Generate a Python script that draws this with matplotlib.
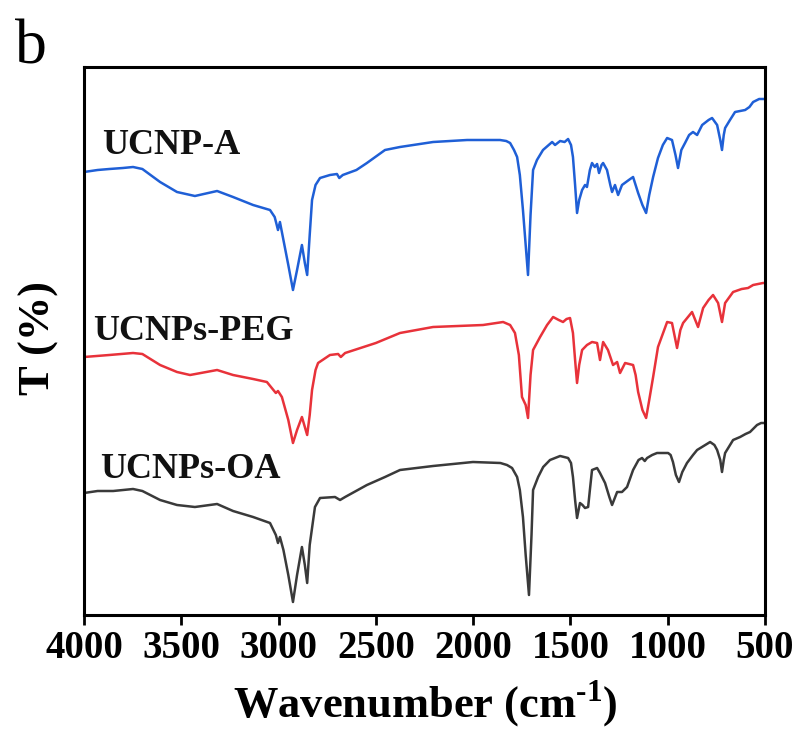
"""
FTIR spectra of UCNPs-OA, UCNPs-PEG and UCNP-A
"""

import matplotlib
matplotlib.use("Agg")
import matplotlib.pyplot as plt

plt.rcParams['font.family'] = ['Liberation Serif', 'DejaVu Serif']
plt.rcParams['mathtext.fontset'] = 'custom'
plt.rcParams['mathtext.rm'] = 'Liberation Serif:bold'
plt.rcParams['mathtext.bf'] = 'Liberation Serif:bold'

# wavenumber (cm-1) and offset transmittance (a.u.)
wn_a = [4000, 3930, 3870, 3800, 3748, 3700, 3609, 3522, 3430, 3316, 3234, 3131,
        3044, 3020, 3012, 3003, 2993, 2975, 2950, 2926, 2905, 2880, 2865, 2853,
        2840, 2828, 2810, 2787, 2736, 2700, 2688, 2670, 2600, 2546, 2453, 2376,
        2206, 2031, 1862, 1830, 1810, 1790, 1774, 1760, 1744, 1730, 1718, 1705,
        1692, 1672, 1641, 1594, 1579, 1553, 1530, 1512, 1497, 1487, 1476, 1466,
        1455, 1440, 1425, 1415, 1400, 1389, 1375, 1363, 1353, 1340, 1332, 1312,
        1295, 1286, 1271, 1255, 1235, 1200, 1178, 1165, 1152, 1130, 1111, 1095,
        1075, 1050, 1025, 1003, 978, 960, 947, 930, 911, 890, 870, 849, 823, 790,
        772, 746, 730, 721, 712, 705, 680, 654, 602, 580, 561, 530, 500]
t_a = [443, 445, 446, 447, 448, 446, 433, 423, 419, 424, 418, 410,
       405, 398, 392, 385, 393, 375, 350, 325, 345, 370, 352, 340,
       380, 415, 430, 437, 440, 441, 437, 440, 445, 452, 465, 468,
       473, 475, 475, 474, 472, 465, 458, 440, 405, 370, 340, 400,
       445, 455, 465, 473, 470, 474, 473, 476, 470, 458, 430, 402,
       415, 425, 430, 428, 445, 452, 448, 451, 442, 450, 452, 445,
       430, 423, 430, 420, 430, 435, 438, 430, 422, 410, 402, 420,
       438, 457, 470, 477, 475, 460, 447, 465, 472, 480, 483, 480, 490, 495,
       497, 490, 475, 465, 480, 487, 495, 503, 505, 508, 513, 516, 516]

wn_peg = [4000, 3870, 3748, 3700, 3609, 3522, 3455, 3316, 3234, 3131, 3060, 3014,
          3003, 2983, 2950, 2926, 2905, 2880, 2865, 2853, 2840, 2828, 2810, 2797,
          2736, 2694, 2680, 2658, 2500, 2376, 2206, 1949, 1846, 1810, 1785, 1765,
          1749, 1730, 1718, 1705, 1692, 1656, 1620, 1589, 1560, 1538, 1520, 1502,
          1487, 1476, 1466, 1455, 1440, 1415, 1389, 1363, 1348, 1332, 1307, 1281,
          1260, 1245, 1219, 1178, 1165, 1152, 1130, 1111, 1095, 1075, 1050, 1003,
          978, 952, 935, 921, 875, 844, 818, 790, 767, 741, 721, 705, 664, 620,
          587, 561, 510, 500]
t_peg = [258, 260, 262, 261, 250, 243, 240, 245, 240, 236, 233, 222,
         224, 218, 195, 172, 185, 198, 188, 180, 200, 225, 245, 252,
         260, 261, 258, 262, 272, 282, 288, 290, 293, 290, 282, 260,
         218, 210, 197, 240, 265, 278, 290, 298, 295, 293, 296, 297,
         282, 255, 232, 250, 265, 270, 273, 272, 255, 273, 265, 250,
         253, 242, 252, 250, 240, 223, 205, 197, 215, 238, 268, 293,
         292, 267, 285, 292, 303, 288, 307, 315, 320, 312, 293, 312, 323, 326,
         327, 330, 332, 332]

wn_oa = [4000, 3930, 3850, 3748, 3700, 3609, 3522, 3430, 3316, 3234, 3131, 3044,
         3014, 3003, 2993, 2975, 2950, 2926, 2905, 2880, 2865, 2853, 2840, 2813,
         2787, 2710, 2684, 2658, 2546, 2453, 2376, 2206, 2001, 1860, 1826, 1800,
         1774, 1760, 1744, 1730, 1713, 1700, 1692, 1666, 1640, 1605, 1553, 1512,
         1497, 1487, 1476, 1466, 1451, 1438, 1425, 1409, 1400, 1389, 1363, 1348,
         1322, 1300, 1286, 1270, 1260, 1235, 1209, 1178, 1150, 1132, 1118, 1106,
         1080, 1055, 998, 985, 973, 958, 942, 925, 901, 870, 849, 782, 760, 746,
         730, 721, 712, 705, 664, 628, 600, 577, 541, 520, 500]
t_oa = [122, 124, 124, 126, 124, 115, 110, 108, 111, 104, 98, 92,
        80, 72, 78, 65, 40, 13, 40, 68, 50, 32, 70, 108,
        117, 118, 115, 118, 130, 138, 145, 149, 153, 152, 150, 147,
        138, 125, 98, 60, 20, 80, 125, 138, 148, 155, 159, 157,
        152, 138, 115, 97, 112, 110, 107, 108, 125, 145, 147, 142,
        132, 118, 110, 118, 123, 123, 128, 145, 155, 157, 154, 157,
        160, 162, 162, 160, 153, 140, 133, 143, 152, 160, 165, 173, 170, 165,
        155, 143, 155, 162, 175, 178, 181, 183, 190, 192, 192]

labels = ['UCNP-A', 'UCNPs-PEG', 'UCNPs-OA']
colors = ['#1f5fd6', '#e8323a', '#3a3a3a']
xticks = [4000, 3500, 3000, 2500, 2000, 1500, 1000, 500]

fig = plt.figure(figsize=(8.01, 7.38), dpi=100)
ax = fig.add_axes([84 / 801, 1 - 615 / 738, 681 / 801, 548 / 738])

ax.plot(wn_a, t_a, color=colors[0], linewidth=1.8)
ax.plot(wn_peg, t_peg, color=colors[1], linewidth=1.8)
ax.plot(wn_oa, t_oa, color=colors[2], linewidth=1.8)

label_font = dict(fontsize=26, fontweight='bold', color='#111111', va='baseline')
ax.text(3907, 461, labels[0], **label_font)
ax.text(3954, 275, labels[1], **label_font)
ax.text(3918, 137, labels[2], **label_font)

ax.set_xlim(4000, 500)
ax.set_ylim(0, 548)
ax.set_xticks(xticks)
ax.set_xticklabels([str(v) for v in xticks], fontsize=28, fontweight='bold')
ax.set_yticks([])
ax.tick_params(axis='x', direction='out', length=7, width=2, pad=4)
for s in ax.spines.values():
    s.set_linewidth(2.2)

fig.text(425 / 801, 1 - 718 / 738, 'Wavenumber (cm$^{\u2010 1}$)', fontsize=32,
         fontweight='bold', ha='center', va='baseline')
fig.text(39 / 801, 1 - 338 / 738, 'T (%)', fontsize=32, fontweight='bold',
         rotation=90, ha='center', va='center')
fig.text(15 / 801, 1 - 63 / 738, 'b', fontsize=46, va='baseline')

fig.savefig('out.png', dpi=100)
